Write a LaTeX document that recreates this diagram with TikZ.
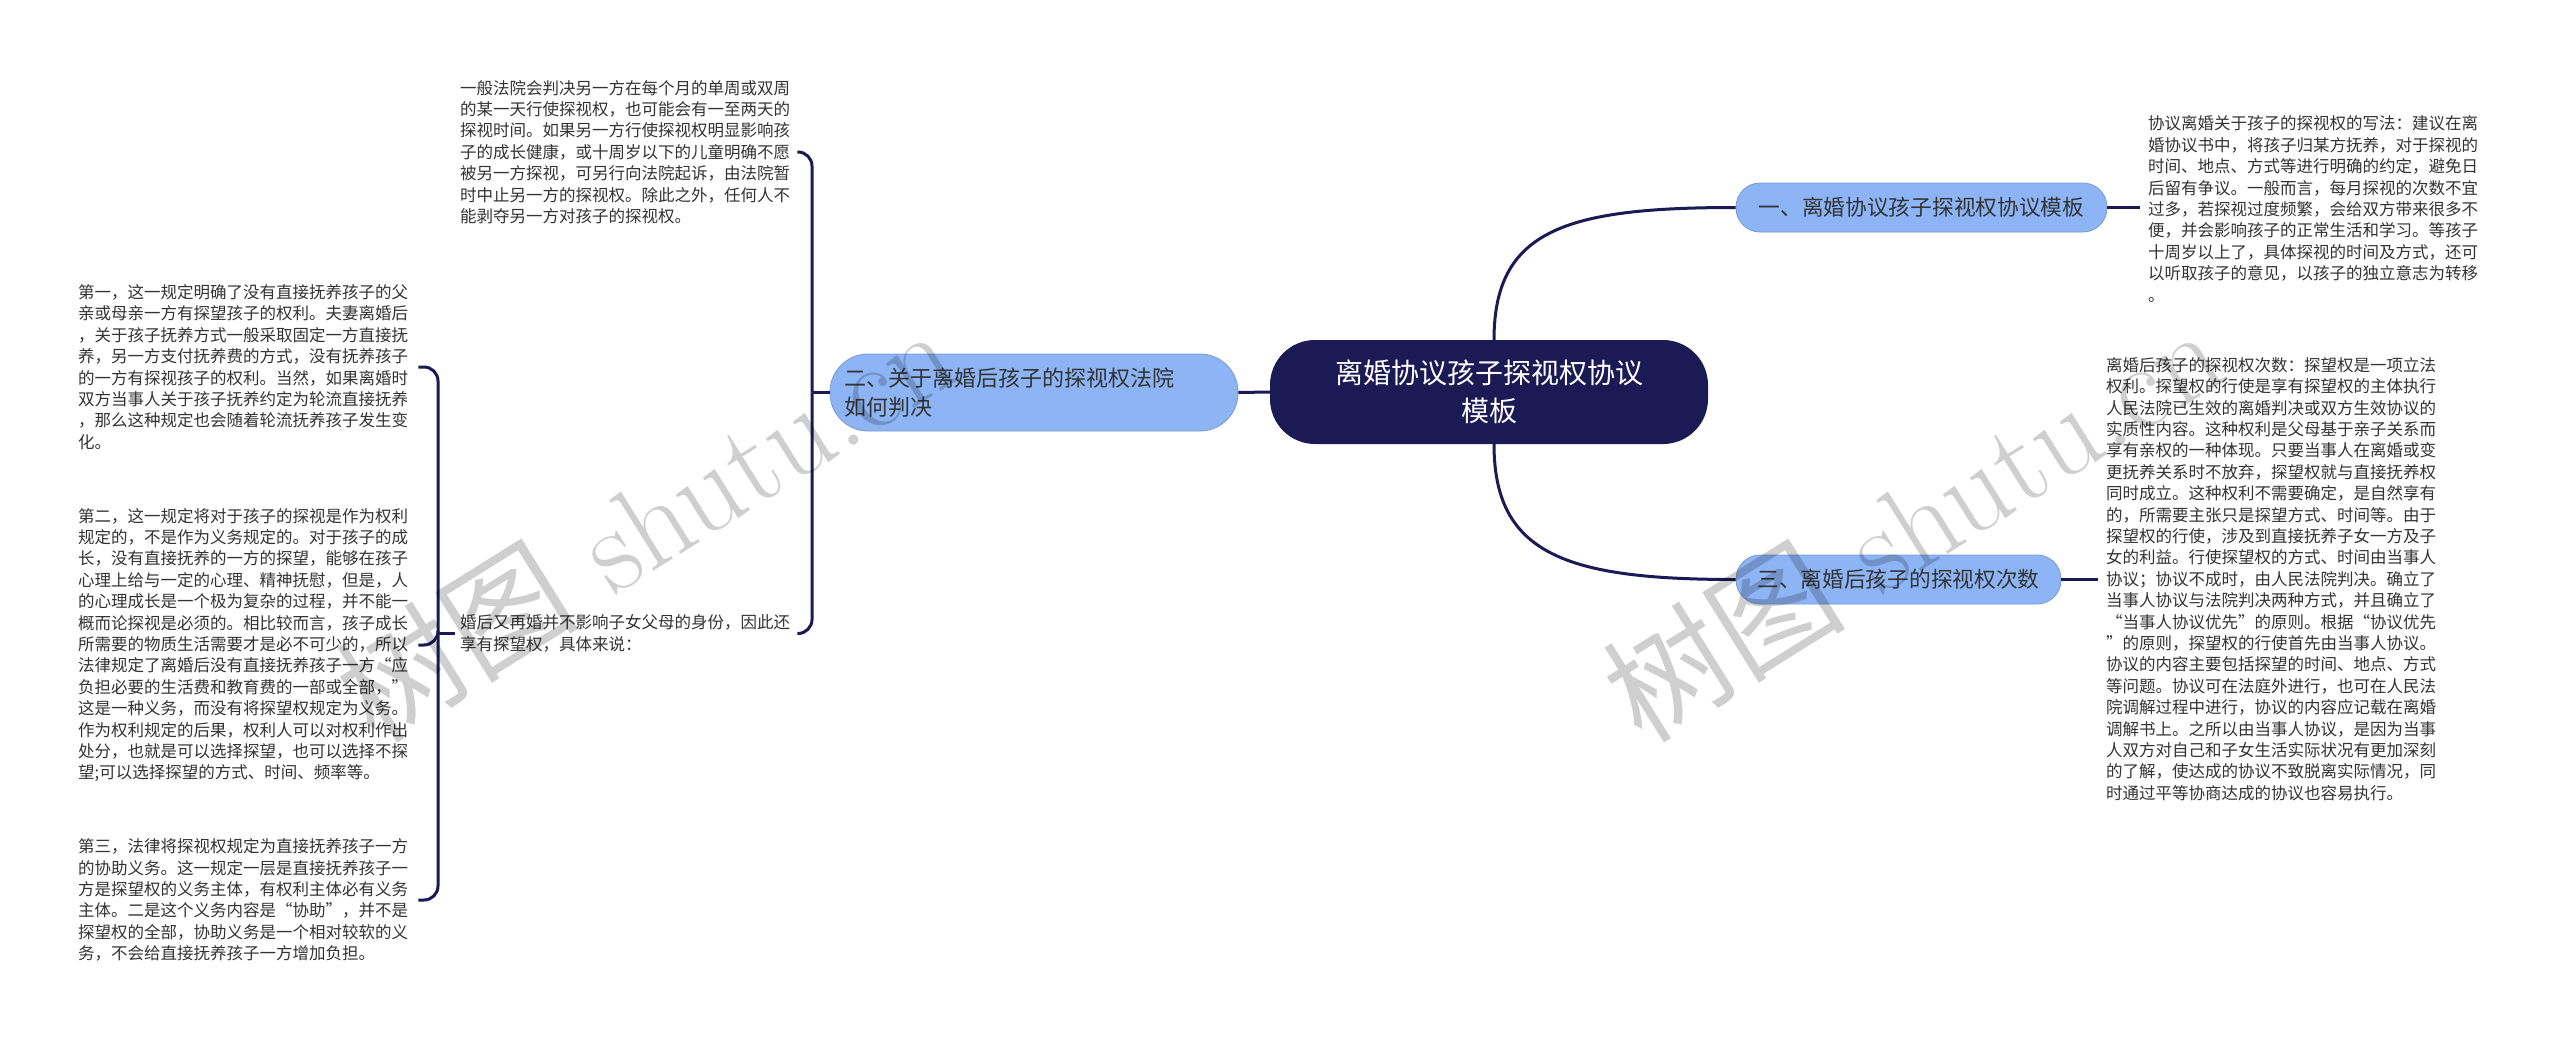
\documentclass[tikz,border=0pt]{standalone}
\usepackage{fontspec}
\newfontfamily\cjk{Noto Sans CJK SC}
\definecolor{navy}{HTML}{1B1A55}
\definecolor{lblue}{HTML}{8DB5F6}
\definecolor{txt}{HTML}{333333}
\begin{document}
\begin{tikzpicture}[x=1pt,y=-1pt,
  body/.style={font=\cjk\fontsize{16.5}{21.4}\selectfont, text=txt, align=left, inner sep=0pt, anchor=west},
  link/.style={draw=navy, line width=3pt},
  bracket/.style={draw=navy, line width=3pt, rounded corners=14pt},
  topic/.style={fill=lblue, draw=lblue!85!black, line width=0.8pt, rounded corners=24pt, inner sep=0pt, minimum height=49pt, text=txt, font=\cjk\fontsize{21.7}{26}\selectfont},
  wmark/.style={rotate=32, text=black, text opacity=0.19, font=\fontsize{122}{122}\selectfont, inner sep=0pt}
]
\useasboundingbox (0,0) rectangle (2560,1041);
\fill[white] (0,0) rectangle (2560,1041);

% central
\node[fill=navy, rounded corners=45pt, minimum width=438pt, minimum height=104pt, inner sep=0pt, text=white, align=center, font=\cjk\fontsize{28}{37.5}\selectfont] (c) at (1489,392) {离婚协议孩子探视权协议\\模板};

% topics
\node[topic, minimum width=371pt] (t1) at (1921.5,207.5) {一、离婚协议孩子探视权协议模板};
\node[topic, minimum width=325pt] (t3) at (1898.5,579.5) {三、离婚后孩子的探视权次数};
\node[topic, minimum width=408pt, minimum height=77pt, rounded corners=38pt, align=left, text width=380pt, font=\cjk\fontsize{22}{29}\selectfont] (t2) at (1034,392.5) {二、关于离婚后孩子的探视权法院\\如何判决};

% right texts
\node[body] (r1) at (2148,209) {协议离婚关于孩子的探视权的写法：建议在离\\婚协议书中，将孩子归某方抚养，对于探视的\\时间、地点、方式等进行明确的约定，避免日\\后留有争议。一般而言，每月探视的次数不宜\\过多，若探视过度频繁，会给双方带来很多不\\便，并会影响孩子的正常生活和学习。等孩子\\十周岁以上了，具体探视的时间及方式，还可\\以听取孩子的意见，以孩子的独立意志为转移\\。};

\node[body] (r2) at (2106,579) {离婚后孩子的探视权次数：探望权是一项立法\\权利。探望权的行使是享有探望权的主体执行\\人民法院已生效的离婚判决或双方生效协议的\\实质性内容。这种权利是父母基于亲子关系而\\享有亲权的一种体现。只要当事人在离婚或变\\更抚养关系时不放弃，探望权就与直接抚养权\\同时成立。这种权利不需要确定，是自然享有\\的，所需要主张只是探望方式、时间等。由于\\探望权的行使，涉及到直接抚养子女一方及子\\女的利益。行使探望权的方式、时间由当事人\\协议；协议不成时，由人民法院判决。确立了\\当事人协议与法院判决两种方式，并且确立了\\“当事人协议优先”的原则。根据“协议优先\\”的原则，探望权的行使首先由当事人协议。\\协议的内容主要包括探望的时间、地点、方式\\等问题。协议可在法庭外进行，也可在人民法\\院调解过程中进行，协议的内容应记载在离婚\\调解书上。之所以由当事人协议，是因为当事\\人双方对自己和子女生活实际状况有更加深刻\\的了解，使达成的协议不致脱离实际情况，同\\时通过平等协商达成的协议也容易执行。};

% left texts
\node[body] (a) at (460,152) {一般法院会判决另一方在每个月的单周或双周\\的某一天行使探视权，也可能会有一至两天的\\探视时间。如果另一方行使探视权明显影响孩\\子的成长健康，或十周岁以下的儿童明确不愿\\被另一方探视，可另行向法院起诉，由法院暂\\时中止另一方的探视权。除此之外，任何人不\\能剥夺另一方对孩子的探视权。};

\node[body] (b) at (460,633.5) {婚后又再婚并不影响子女父母的身份，因此还\\享有探望权，具体来说：};

\node[body] (p1) at (78,367) {第一，这一规定明确了没有直接抚养孩子的父\\亲或母亲一方有探望孩子的权利。夫妻离婚后\\，关于孩子抚养方式一般采取固定一方直接抚\\养，另一方支付抚养费的方式，没有抚养孩子\\的一方有探视孩子的权利。当然，如果离婚时\\双方当事人关于孩子抚养约定为轮流直接抚养\\，那么这种规定也会随着轮流抚养孩子发生变\\化。};

\node[body] (p2) at (78,645) {第二，这一规定将对于孩子的探视是作为权利\\规定的，不是作为义务规定的。对于孩子的成\\长，没有直接抚养的一方的探望，能够在孩子\\心理上给与一定的心理、精神抚慰，但是，人\\的心理成长是一个极为复杂的过程，并不能一\\概而论探视是必须的。相比较而言，孩子成长\\所需要的物质生活需要才是必不可少的，所以\\法律规定了离婚后没有直接抚养孩子一方“应\\负担必要的生活费和教育费的一部或全部，”\\这是一种义务，而没有将探望权规定为义务。\\作为权利规定的后果，权利人可以对权利作出\\处分，也就是可以选择探望，也可以选择不探\\望;可以选择探望的方式、时间、频率等。};

\node[body] (p3) at (78,900) {第三，法律将探视权规定为直接抚养孩子一方\\的协助义务。这一规定一层是直接抚养孩子一\\方是探望权的义务主体，有权利主体必有义务\\主体。二是这个义务内容是“协助”，并不是\\探望权的全部，协助义务是一个相对较软的义\\务，不会给直接抚养孩子一方增加负担。};

% connectors
\draw[link] ([xshift=5pt]c.north) .. controls +(0,-110) and +(-170,0) .. (t1.west);
\draw[link] ([xshift=5pt]c.south) .. controls +(0,110) and +(-170,0) .. (t3.west);
\draw[link] (c.west) -- (t2.east);
\draw[link] (t1.east) -- ([xshift=-8pt]r1.west |- t1.east);
\draw[link] (t3.east) -- ([xshift=-8pt]r2.west |- t3.east);

\coordinate (j2) at (812,392.5);
\draw[link] (t2.west) -- (j2);
\draw[bracket] (j2) |- ([xshift=7pt]a.east);
\draw[bracket] (j2) |- ([xshift=7pt]b.east);

\coordinate (j1) at (438,633.5);
\draw[link] ([xshift=-5pt]b.west) -- (j1);
\draw[bracket] (j1) |- ([xshift=10pt]p1.east);
\draw[bracket] (j1) |- ([xshift=10pt]p2.east);
\draw[bracket] (j1) |- ([xshift=10pt]p3.east);

% watermarks (on top, translucent)
\node[wmark] (w1) at (645,522) {{\cjk 树图} shutu.cn};
\node[wmark] (w2) at (1912,522) {{\cjk 树图} shutu.cn};
\end{tikzpicture}
\end{document}
